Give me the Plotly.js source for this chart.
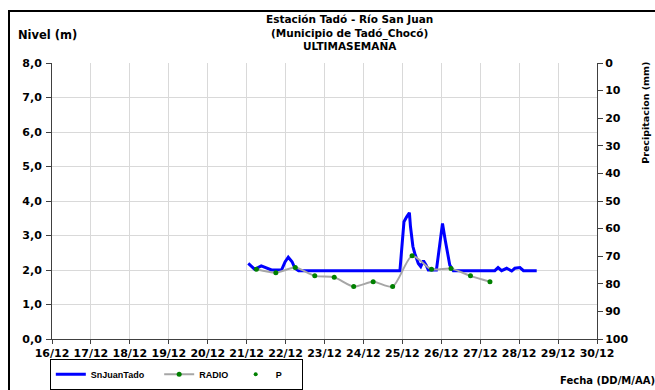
<!DOCTYPE html>
<html>
<head>
<meta charset="utf-8">
<script src="https://cdn.plot.ly/plotly-3.0.1.min.js"></script>
<style>
html,body{margin:0;padding:0;background:#fff;overflow:hidden;}
#chart{width:655px;height:390px;position:absolute;left:0;top:0;}
#frame{position:absolute;left:8px;top:10px;width:700px;height:420px;border-left:2px solid #000;border-top:2px solid #000;pointer-events:none;}
</style>
</head>
<body>
<div id="chart"></div>
<div id="frame"></div>
<script>
// Level series SnJuanTado (m)
const levelTimes = [
  '2011-12-21 01:00','2011-12-21 05:00','2011-12-21 09:00','2011-12-21 12:30','2011-12-21 15:20',
  '2011-12-21 21:30','2011-12-21 23:45','2011-12-22 01:40','2011-12-22 04:00','2011-12-22 05:45',
  '2011-12-22 08:00','2011-12-24 22:30','2011-12-25 01:00','2011-12-25 02:40','2011-12-25 04:20',
  '2011-12-25 05:00','2011-12-25 06:30','2011-12-25 07:40','2011-12-25 09:50','2011-12-25 11:20',
  '2011-12-25 13:00','2011-12-25 14:40','2011-12-25 16:00','2011-12-25 21:00','2011-12-25 23:15',
  '2011-12-26 00:45','2011-12-26 02:25','2011-12-26 03:50','2011-12-26 05:15','2011-12-26 07:25',
  '2011-12-27 09:00','2011-12-27 11:00','2011-12-27 13:10','2011-12-27 16:20','2011-12-27 19:25',
  '2011-12-27 21:20','2011-12-28 00:30','2011-12-28 02:40','2011-12-28 10:50'
];
const levelValues = [
  2.19,2.02,2.12,2.05,2.00,
  2.00,2.24,2.37,2.24,2.05,
  1.98,1.98,3.40,3.54,3.66,
  3.26,2.68,2.48,2.19,2.10,
  2.27,2.14,2.00,2.00,2.77,
  3.35,2.87,2.48,2.14,1.98,
  1.98,2.07,1.98,2.05,1.97,
  2.05,2.07,1.98,1.98
];
// RADIO series (m)
const radioTimes = [
  '2011-12-21 06:00','2011-12-21 18:00','2011-12-22 06:00','2011-12-22 18:00','2011-12-23 06:00',
  '2011-12-23 18:00','2011-12-24 06:00','2011-12-24 18:00','2011-12-25 06:00','2011-12-25 18:00',
  '2011-12-26 06:00','2011-12-26 18:00','2011-12-27 06:00'
];
const radioValues = [2.02,1.92,2.07,1.83,1.79,1.52,1.66,1.52,2.41,2.02,2.04,1.83,1.66];
// Precipitation P (mm) - no values shown in the chart
const precipTimes = ['2011-12-21 00:00'];
const precipValues = [null];

const titleText = '<b>Estación Tadó - Río San Juan</b><br><b>(Municipio de Tadó_Chocó)</b><br><b>ULTIMASEMANA</b>';
const yTicks = [0,1,2,3,4,5,6,7,8];
const y2Ticks = [0,10,20,30,40,50,60,70,80,90,100];

const FONT = 'DejaVu Sans, sans-serif';
const LFONT = 'Liberation Sans, Arial, sans-serif';

const traces = [
  {x: levelTimes, y: levelValues, name: '<b>SnJuanTado</b>&nbsp;&nbsp;&nbsp;&nbsp;', type: 'scatter', mode: 'lines',
   line: {color: '#0000ff', width: 3, shape: 'linear'}},
  {x: radioTimes, y: radioValues, name: '<b>RADIO</b>&nbsp;', type: 'scatter', mode: 'lines+markers',
   line: {color: '#a6a6a6', width: 2, shape: 'spline', smoothing: 0.7},
   marker: {color: '#008000', size: 5}},
  {x: precipTimes, y: precipValues, name: '<b>P</b>&nbsp;&nbsp;&nbsp;&nbsp;&nbsp;&nbsp;', type: 'scatter', mode: 'markers', yaxis: 'y2',
   marker: {color: '#008000', size: 4}}
];

const annotations = [
  {text: titleText, xref: 'paper', yref: 'paper', x: 0.545, y: 1.19,
   xanchor: 'center', yanchor: 'top', showarrow: false, align: 'center',
   font: {family: FONT, size: 10.5, color: '#000'}},
  {text: '<b>Nivel (m)</b>', xref: 'paper', yref: 'paper', x: -0.066, y: 1.1,
   xanchor: 'left', yanchor: 'middle', showarrow: false, font: {family: FONT, size: 11.5, color: '#000'}},
  {text: '<b>Precipitacion (mm)</b>', xref: 'paper', yref: 'paper', x: 1.09, y: 0.82,
   xanchor: 'center', yanchor: 'middle', textangle: -90, showarrow: false,
   font: {family: FONT, size: 9.5, color: '#000'}},
  {text: '<b>Fecha (DD/M/AA)</b>', xref: 'paper', yref: 'paper', x: 1.11, y: -0.149,
   xanchor: 'right', yanchor: 'middle', showarrow: false, font: {family: FONT, size: 10, color: '#000'}}
];

const layout = {
  width: 655, height: 390,
  margin: {l: 52, r: 58, t: 63, b: 51, pad: 0, autoexpand: false},
  paper_bgcolor: '#ffffff', plot_bgcolor: '#ffffff',
  separators: ',.',
  font: {family: FONT, size: 11, color: '#000'},
  showlegend: true,
  legend: {orientation: 'h', x: -0.004, y: -0.128, xanchor: 'left', yanchor: 'middle',
           bordercolor: '#000', borderwidth: 1, bgcolor: '#fff',
           font: {family: LFONT, size: 9, color: '#000'},
           itemwidth: 30, tracegroupgap: 0},
  xaxis: {type: 'date', range: ['2011-12-16', '2011-12-30'], dtick: 86400000,
          tick0: '2011-12-16', tickformat: '%d/%m',
          showgrid: true, gridcolor: '#d9d9d9', gridwidth: 1,
          showline: true, linecolor: '#404040', linewidth: 1,
          ticks: 'outside', ticklen: 4, tickcolor: '#404040',
          tickfont: {family: FONT, size: 11, color: '#000', weight: 'bold'}, zeroline: false, fixedrange: true},
  yaxis: {range: [0, 8], tickvals: yTicks, tickformat: '.1f',
          showgrid: true, gridcolor: '#d9d9d9', gridwidth: 1,
          showline: true, linecolor: '#404040', linewidth: 1,
          ticks: 'outside', ticklen: 5, tickcolor: '#404040', ticklabelstandoff: 2,
          tickfont: {family: FONT, size: 11, color: '#000', weight: 'bold'}, zeroline: false, fixedrange: true},
  yaxis2: {overlaying: 'y', side: 'right', range: [100, 0], tickvals: y2Ticks,
           showgrid: false, showline: true, linecolor: '#404040', linewidth: 1,
           ticks: 'outside', ticklen: 5, tickcolor: '#404040',
           tickfont: {family: FONT, size: 11, color: '#000', weight: 'bold'}, zeroline: false, fixedrange: true},
  annotations: annotations
};

Plotly.newPlot('chart', traces, layout, {displayModeBar: false, staticPlot: true});
</script>
</body>
</html>
